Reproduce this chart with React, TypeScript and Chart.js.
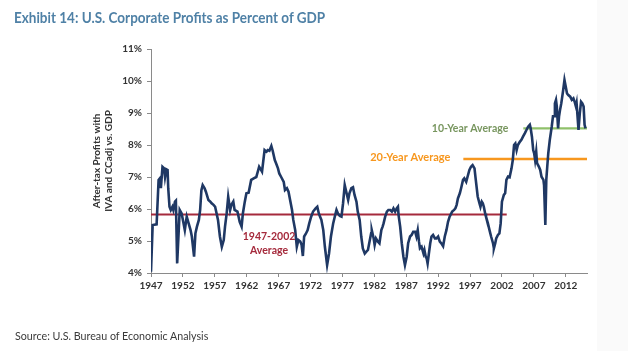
import React, { useEffect, useRef } from 'react';
import { Chart, registerables } from 'chart.js';

Chart.register(...registerables);

const chartTitle = 'Exhibit 14: U.S. Corporate Profits as Percent of GDP';
const sourceNote = 'Source: U.S. Bureau of Economic Analysis';
const yAxisTitle = ['After-tax Profits with', 'IVA and CCadj vs. GDP'];
const xTickYears = [1947, 1952, 1957, 1962, 1967, 1972, 1977, 1982, 1987, 1992, 1997, 2002, 2007, 2012];
const yTickValues = [4, 5, 6, 7, 8, 9, 10, 11];

const dates = [
  1947.00, 1947.26, 1947.88, 1948.19, 1948.39, 1948.55, 1948.80, 1949.06, 1949.20, 1949.40,
  1949.60, 1949.70, 1949.90, 1950.10, 1950.35, 1950.50, 1950.76, 1950.90, 1951.10, 1951.50,
  1951.80, 1952.00, 1952.30, 1952.60, 1952.90, 1953.20, 1953.40, 1953.75, 1953.96, 1954.20,
  1954.50, 1954.70, 1954.90, 1955.10, 1955.40, 1955.60, 1956.00, 1956.30, 1956.50, 1956.80,
  1957.05, 1957.50, 1957.80, 1958.10, 1958.40, 1958.60, 1958.86, 1959.10, 1959.40, 1959.60,
  1959.90, 1960.10, 1960.55, 1960.90, 1961.20, 1961.40, 1961.70, 1961.95, 1962.30, 1962.70,
  1963.10, 1963.50, 1963.95, 1964.20, 1964.40, 1964.80, 1965.10, 1965.30, 1965.55, 1965.86,
  1966.07, 1966.40, 1966.60, 1966.90, 1967.10, 1967.40, 1967.80, 1968.00, 1968.30, 1968.55,
  1968.80, 1969.10, 1969.30, 1969.60, 1969.85, 1970.10, 1970.40, 1970.60, 1970.80, 1971.00,
  1971.25, 1971.55, 1971.80, 1972.10, 1972.40, 1972.80, 1973.06, 1973.30, 1973.50, 1973.70,
  1974.00, 1974.25, 1974.60, 1974.90, 1975.20, 1975.55, 1975.80, 1976.07, 1976.30, 1976.60,
  1976.85, 1977.10, 1977.36, 1977.60, 1977.90, 1978.10, 1978.40, 1978.66, 1978.90, 1979.20,
  1979.40, 1979.70, 1979.95, 1980.20, 1980.50, 1980.75, 1981.00, 1981.20, 1981.50, 1981.60,
  1981.90, 1982.05, 1982.26, 1982.57, 1982.80, 1983.10, 1983.30, 1983.45, 1983.70, 1983.97,
  1984.20, 1984.50, 1984.75, 1985.00, 1985.26, 1985.50, 1985.70, 1985.80, 1986.05, 1986.30,
  1986.56, 1986.80, 1987.07, 1987.30, 1987.60, 1987.85, 1988.10, 1988.40, 1988.60, 1988.80,
  1989.00, 1989.15, 1989.40, 1989.70, 1989.85, 1990.05, 1990.20, 1990.35, 1990.55, 1990.76,
  1990.96, 1991.20, 1991.50, 1991.74, 1992.00, 1992.26, 1992.50, 1992.78, 1993.04, 1993.30,
  1993.55, 1993.80, 1994.20, 1994.50, 1994.70, 1994.90, 1995.10, 1995.40, 1995.60, 1995.90,
  1996.10, 1996.40, 1996.60, 1996.90, 1997.15, 1997.40, 1997.70, 1997.90, 1998.20, 1998.47,
  1998.63, 1998.84, 1999.00, 1999.16, 1999.37, 1999.50, 1999.80, 2000.05, 2000.30, 2000.60,
  2000.74, 2000.95, 2001.10, 2001.37, 2001.60, 2001.80, 2002.00, 2002.30, 2002.50, 2002.70,
  2002.95, 2003.20, 2003.50, 2003.70, 2003.90, 2004.10, 2004.30, 2004.50, 2004.80, 2005.05,
  2005.30, 2005.60, 2005.84, 2006.10, 2006.37, 2006.50, 2006.70, 2006.90, 2007.05, 2007.20,
  2007.37, 2007.50, 2007.80, 2008.00, 2008.20, 2008.50, 2008.60, 2008.80, 2008.95, 2009.10,
  2009.26, 2009.50, 2009.80, 2010.00, 2010.20, 2010.30, 2010.47, 2010.60, 2010.80, 2010.95,
  2011.10, 2011.30, 2011.60, 2011.80, 2012.00, 2012.20, 2012.40, 2012.70, 2012.95, 2013.20,
  2013.40, 2013.60, 2013.70, 2014.00, 2014.20, 2014.40, 2014.60, 2014.80, 2014.95, 2015.10,
];

const profitPct = [
  4.04, 5.50, 5.52, 6.91, 6.96, 6.65, 7.32, 7.27, 7.00, 7.24,
  7.22, 6.65, 6.07, 5.97, 6.07, 5.97, 6.23, 6.26, 4.30, 5.97,
  5.86, 5.66, 5.34, 5.76, 5.55, 5.34, 5.14, 4.51, 5.24, 5.45,
  5.66, 5.97, 6.59, 6.75, 6.65, 6.54, 6.28, 6.23, 6.18, 6.13,
  6.07, 5.66, 5.14, 4.82, 5.03, 5.45, 5.86, 6.38, 5.97, 6.13,
  6.23, 5.97, 5.92, 5.60, 5.45, 5.86, 6.23, 6.49, 6.51, 6.91,
  6.96, 7.00, 7.32, 7.24, 7.17, 7.84, 7.79, 7.84, 7.82, 7.97,
  7.82, 7.53, 7.43, 7.27, 7.11, 7.00, 6.85, 6.59, 6.65, 6.54,
  6.28, 5.97, 5.66, 5.34, 4.82, 5.03, 4.98, 4.88, 4.53, 5.14,
  5.22, 5.34, 5.55, 5.76, 5.92, 6.02, 6.07, 5.86, 5.76, 5.66,
  5.34, 4.82, 4.25, 4.61, 5.14, 5.55, 5.76, 5.97, 5.86, 5.78,
  5.76, 6.18, 6.75, 6.54, 6.28, 6.49, 6.65, 6.68, 6.44, 6.23,
  5.92, 5.66, 5.14, 4.77, 4.61, 4.67, 4.72, 4.93, 5.24, 5.34,
  5.08, 4.88, 5.08, 4.98, 4.93, 5.34, 5.45, 5.55, 5.76, 5.92,
  5.97, 5.97, 5.92, 6.02, 5.92, 6.02, 6.07, 5.81, 5.45, 4.93,
  4.51, 4.25, 4.51, 4.93, 5.14, 5.19, 5.29, 5.29, 5.14, 5.34,
  4.98, 4.77, 4.82, 4.61, 4.72, 4.51, 4.46, 4.30, 4.61, 4.93,
  5.14, 5.19, 5.08, 5.08, 5.14, 4.98, 4.93, 4.84, 5.14, 5.34,
  5.60, 5.76, 5.92, 5.97, 6.02, 6.13, 6.33, 6.49, 6.65, 6.91,
  6.96, 6.85, 7.00, 7.22, 7.32, 7.37, 7.27, 6.91, 6.39, 6.18,
  6.07, 6.23, 6.18, 6.07, 5.86, 5.76, 5.55, 5.34, 5.14, 4.93,
  4.77, 4.93, 5.08, 5.19, 5.24, 5.55, 6.23, 6.44, 6.49, 6.91,
  7.01, 6.99, 7.27, 7.53, 8.00, 8.05, 7.84, 8.00, 8.10, 8.16,
  8.26, 8.37, 8.47, 8.57, 8.63, 8.52, 8.26, 7.84, 7.74, 7.53,
  7.79, 7.43, 7.32, 7.22, 7.01, 6.91, 6.75, 5.50, 6.91, 7.32,
  7.74, 8.16, 8.57, 8.90, 8.90, 9.30, 9.41, 9.20, 8.52, 8.90,
  9.09, 9.30, 9.72, 10.03, 9.82, 9.61, 9.56, 9.51, 9.41, 9.46,
  9.35, 9.20, 9.30, 8.47, 8.99, 9.35, 9.30, 9.20, 8.63, 8.52,
];

const longRunAvgYears = [1947, 2002.75];
const longRunAvg = 5.83;
const twentyYearAvgYears = [1995.95, 2015.33];
const twentyYearAvg = 7.56;
const tenYearAvgYears = [2005.35, 2015.33];
const tenYearAvg = 8.52;

const longRunLabel = ['1947-2002', 'Average'];
const twentyYearLabel = '20-Year Average';
const tenYearLabel = '10-Year Average';

const NAVY = '#1f3864';
const RED = '#a52a3c';
const ORANGE = '#f7971e';
const GREEN = '#8fc06a';
const GREEN_TEXT = '#78965f';
const AXIS = '#8a8a8a';
const FONT = 'Lato, "Open Sans", sans-serif';

const labelsPlugin = {
  id: 'avgLabels',
  afterDatasetsDraw(chart: any) {
    const { ctx, scales } = chart;
    const x = scales.x;
    const y = scales.y;
    ctx.save();
    ctx.textBaseline = 'middle';
    ctx.font = `bold 10.5px ${FONT}`;
    ctx.fillStyle = RED;
    ctx.textAlign = 'center';
    const cx = x.getPixelForValue(1965.5);
    const ly = y.getPixelForValue(longRunAvg);
    ctx.fillText(longRunLabel[0], cx, ly + 22);
    ctx.fillText(longRunLabel[1], cx, ly + 36);
    ctx.fillStyle = ORANGE;
    ctx.textAlign = 'right';
    ctx.font = `bold 11px ${FONT}`;
    ctx.fillText(twentyYearLabel, x.getPixelForValue(twentyYearAvgYears[0]) - 13, y.getPixelForValue(twentyYearAvg) - 2);
    ctx.fillStyle = GREEN_TEXT;
    ctx.font = `bold 10.5px ${FONT}`;
    ctx.fillText(tenYearLabel, x.getPixelForValue(tenYearAvgYears[0]) - 15, y.getPixelForValue(tenYearAvg));
    ctx.restore();
  },
};

export default function App() {
  const canvasRef = useRef<HTMLCanvasElement | null>(null);

  useEffect(() => {
    document.body.style.margin = '0';
    const canvas = canvasRef.current;
    if (!canvas) return;
    const profitPoints = dates.map((d, i) => ({ x: d, y: profitPct[i] }));
    const chart = new Chart(canvas, {
      type: 'line',
      data: {
        datasets: [
          {
            label: 'Profits',
            data: profitPoints,
            borderColor: NAVY,
            borderWidth: 2.6,
            pointRadius: 0,
            tension: 0,
            fill: false,
          },
          {
            label: '1947-2002 Average',
            data: longRunAvgYears.map((d) => ({ x: d, y: longRunAvg })),
            borderColor: RED,
            borderWidth: 2,
            pointRadius: 0,
          },
          {
            label: '20-Year Average',
            data: twentyYearAvgYears.map((d) => ({ x: d, y: twentyYearAvg })),
            borderColor: ORANGE,
            borderWidth: 2.5,
            pointRadius: 0,
          },
          {
            label: '10-Year Average',
            data: tenYearAvgYears.map((d) => ({ x: d, y: tenYearAvg })),
            borderColor: GREEN,
            borderWidth: 2.2,
            pointRadius: 0,
          },
        ],
      },
      options: {
        animation: false,
        responsive: false,
        maintainAspectRatio: false,
        layout: { padding: { left: 88, right: 41, top: 49, bottom: 0 } },
        plugins: { legend: { display: false }, tooltip: { enabled: false } },
        scales: {
          x: {
            type: 'linear',
            min: 1947,
            max: 2015.33,
            afterBuildTicks(scale: any) {
              scale.ticks = xTickYears.map((v) => ({ value: v }));
            },
            afterFit(scale: any) {
              scale.height = 351 - 273;
            },
            grid: {
              drawOnChartArea: false,
              drawTicks: true,
              tickLength: 4,
              tickColor: AXIS,
              color: AXIS,
            },
            border: { color: AXIS, width: 1 },
            ticks: {
              autoSkip: false,
              maxRotation: 0,
              padding: 3,
              color: '#333',
              font: { family: FONT, size: 10, weight: 'bold' },
              callback: (v: any) => String(v),
            },
          },
          y: {
            min: 4,
            max: 11,
            afterBuildTicks(scale: any) {
              scale.ticks = yTickValues.map((v) => ({ value: v }));
            },
            afterFit(scale: any) {
              scale.width = 151 - 88;
            },
            grid: {
              drawOnChartArea: false,
              drawTicks: true,
              tickLength: 4,
              tickColor: AXIS,
              color: AXIS,
            },
            border: { color: AXIS, width: 1 },
            ticks: {
              padding: 5,
              color: '#333',
              font: { family: FONT, size: 10, weight: 'bold' },
              callback: (v: any) => `${v}%`,
            },
            title: {
              display: true,
              text: yAxisTitle,
              color: '#333',
              padding: { top: 3, bottom: 0 },
              font: { family: FONT, size: 10, weight: 'bold', lineHeight: 1.2 },
            },
          },
        },
      },
      plugins: [labelsPlugin],
    } as any);
    return () => chart.destroy();
  }, []);

  return (
    <div style={{ position: 'fixed', left: 0, top: 0, width: 628, height: 351, background: '#ffffff', overflow: 'hidden' }}>
      <div style={{ position: 'absolute', left: 597, top: 0, width: 31, height: 351, background: '#fafafa' }} />
      <canvas ref={canvasRef} width={628} height={351} style={{ position: 'absolute', left: 0, top: 0, width: 628, height: 351 }} />
      <div
        style={{
          position: 'absolute',
          left: 14,
          top: 8,
          fontFamily: FONT,
          fontWeight: 700,
          fontSize: 15,
          lineHeight: '18px',
          color: '#4f81a6',
          whiteSpace: 'nowrap',
          transform: 'scaleX(0.9)',
          transformOrigin: 'left center',
        }}
      >
        {chartTitle}
      </div>
      <div
        style={{
          position: 'absolute',
          left: 15,
          top: 329,
          fontFamily: FONT,
          fontSize: 11.5,
          lineHeight: '14px',
          color: '#3a3a3a',
          whiteSpace: 'nowrap',
          transform: 'scaleX(0.93)',
          transformOrigin: 'left center',
        }}
      >
        {sourceNote}
      </div>
    </div>
  );
}
